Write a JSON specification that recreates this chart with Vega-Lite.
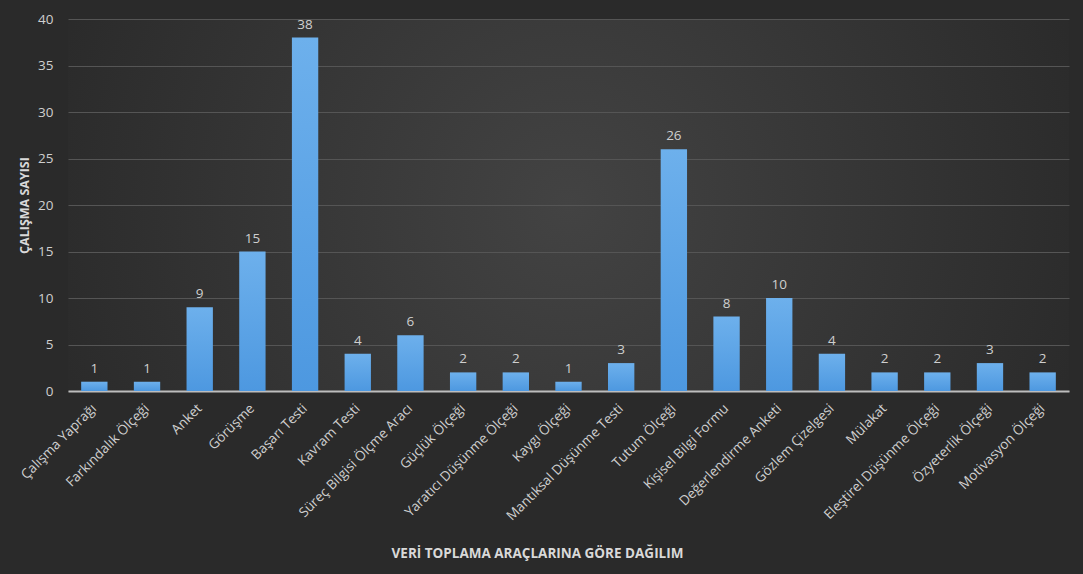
{
  "$schema": "https://vega.github.io/schema/vega-lite/v6.json",
  "width": 1001,
  "height": 372,
  "autosize": {"type": "none"},
  "padding": {"left": 68, "top": 19, "right": 14, "bottom": 183},
  "background": "#2a2a2a",
  "config": {
    "font": "Open Sans",
    "view": {
      "stroke": null,
      "fill": {
        "gradient": "radial",
        "x1": 0.5, "y1": 0.5, "r1": 0,
        "x2": 0.5, "y2": 0.5, "r2": 0.55,
        "stops": [
          {"offset": 0, "color": "#434343"},
          {"offset": 1, "color": "#2a2a2a"}
        ]
      }
    }
  },
  "data": {
    "values": [
      {"arac": "Çalışma Yaprağı", "sayi": 1},
      {"arac": "Farkındalık Ölçeği", "sayi": 1},
      {"arac": "Anket", "sayi": 9},
      {"arac": "Görüşme", "sayi": 15},
      {"arac": "Başarı Testi", "sayi": 38},
      {"arac": "Kavram Testi", "sayi": 4},
      {"arac": "Süreç Bilgisi Ölçme Aracı", "sayi": 6},
      {"arac": "Güçlük Ölçeği", "sayi": 2},
      {"arac": "Yaratıcı Düşünme Ölçeği", "sayi": 2},
      {"arac": "Kaygı Ölçeği", "sayi": 1},
      {"arac": "Mantıksal Düşünme Testi", "sayi": 3},
      {"arac": "Tutum Ölçeği", "sayi": 26},
      {"arac": "Kişisel Bilgi Formu", "sayi": 8},
      {"arac": "Değerlendirme Anketi", "sayi": 10},
      {"arac": "Gözlem Çizelgesi", "sayi": 4},
      {"arac": "Mülakat", "sayi": 2},
      {"arac": "Eleştirel Düşünme Ölçeği", "sayi": 2},
      {"arac": "Özyeterlik Ölçeği", "sayi": 3},
      {"arac": "Motivasyon Ölçeği", "sayi": 2}
    ]
  },
  "encoding": {
    "x": {
      "field": "arac",
      "type": "nominal",
      "sort": null,
      "scale": {"paddingInner": 0.5, "paddingOuter": 0.25},
      "axis": {
        "title": "VERİ TOPLAMA ARAÇLARINA GÖRE DAĞILIM",
        "titleFont": "Open Sans",
        "titleFontSize": 13.5,
        "titleFontWeight": "bold",
        "titleColor": "#d9d9d9",
        "titleX": 469,
        "titleY": 162,
        "titleAlign": "center",
        "titleBaseline": "middle",
        "labelAngle": -45,
        "labelAlign": "right",
        "labelBaseline": "middle",
        "labelPadding": 15,
        "labelFontSize": 13.5,
        "labelColor": "#cfcfcf",
        "labelOverlap": false,
        "labelLimit": 300,
        "ticks": false,
        "domainColor": "#bdbdbd",
        "domainWidth": 2,
        "grid": false
      }
    },
    "y": {
      "field": "sayi",
      "type": "quantitative",
      "scale": {"domain": [0, 40], "nice": false},
      "axis": {
        "title": "ÇALIŞMA SAYISI",
        "titleFont": "Open Sans",
        "titleFontSize": 12.5,
        "titleFontWeight": "bold",
        "titleColor": "#d9d9d9",
        "titleX": -44,
        "titleY": 186,
        "titleAngle": -90,
        "titleAlign": "center",
        "titleBaseline": "middle",
        "values": [0, 5, 10, 15, 20, 25, 30, 35, 40],
        "labelFontSize": 13.5,
        "labelColor": "#cfcfcf",
        "labelPadding": 15,
        "ticks": false,
        "domain": false,
        "gridColor": "#555555",
        "gridWidth": 1
      }
    }
  },
  "layer": [
    {
      "mark": {
        "type": "bar",
        "color": {
          "gradient": "linear",
          "x1": 0, "y1": 0, "x2": 0, "y2": 1,
          "stops": [
            {"offset": 0, "color": "#6db0ec"},
            {"offset": 1, "color": "#4d98e0"}
          ]
        }
      }
    },
    {
      "mark": {"type": "text", "baseline": "bottom", "dy": -6, "fontSize": 13.5, "color": "#cfcfcf"},
      "encoding": {"text": {"field": "sayi", "type": "quantitative"}}
    }
  ]
}
